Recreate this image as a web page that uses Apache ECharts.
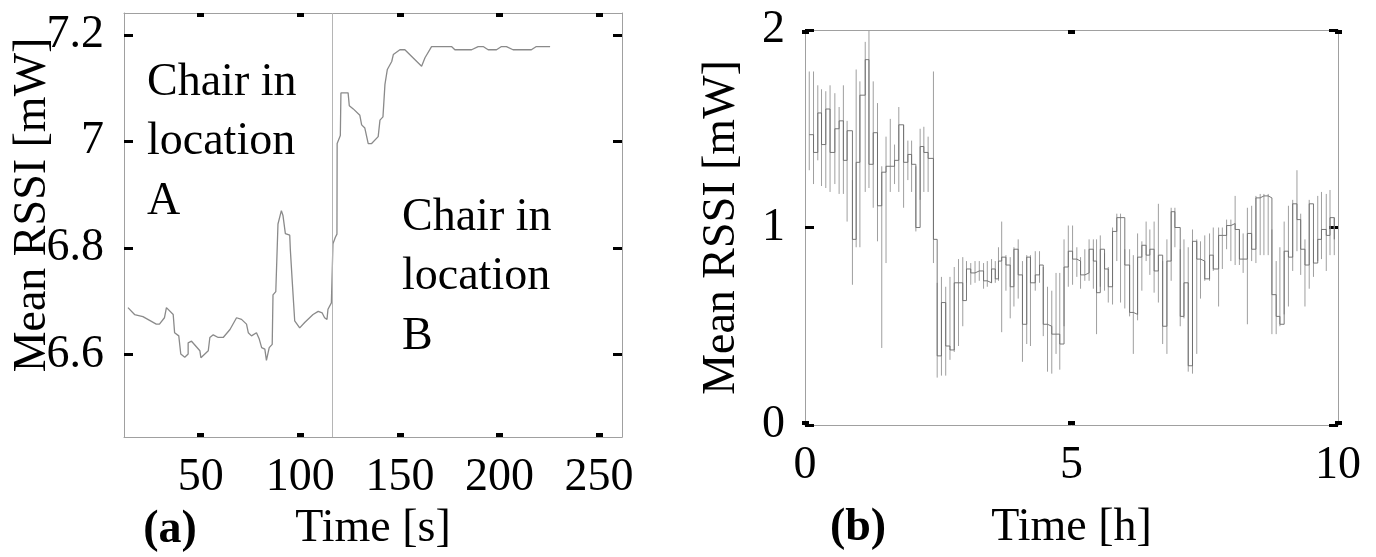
<!DOCTYPE html>
<html>
<head>
<meta charset="utf-8">
<script src="https://cdn.jsdelivr.net/npm/echarts@6/dist/echarts.min.js"></script>
<style>
html,body{margin:0;padding:0;background:#fff;}
#chart{width:1376px;height:557px;}
</style>
</head>
<body>
<div id="chart"></div>
<script>
// ---------- Panel (a) data ----------
const timeA = [13.5,16.8,21,27.7,29.3,31.8,32.8,36.2,36.9,39,40,42,43.7,43.7,45.4,49.6,50.1,53.8,54.6,56.3,58.8,61.3,64.7,68,70.5,73,73.9,75.5,78,79.4,80.6,82.2,83,83.9,84.4,85.9,86.3,87.7,88.8,90.5,91.3,92.5,94.7,95,96,97.2,99.7,102.2,106.4,109,111,112.2,113.4,113.9,115.6,116.4,117.6,118.4,118.5,120.1,120.4,124,124.6,126.6,129.9,130.8,132.4,134.1,135.8,139.1,140,141.5,142.5,143.7,145.9,146.7,150,152.5,160.9,162.6,165.9,175.9,177.6,186,189.3,191.8,194.3,198.5,201,203.5,206.8,216,218.5,225.4];
const rssiA = [6.688,6.675,6.671,6.657,6.657,6.669,6.688,6.675,6.641,6.635,6.601,6.595,6.601,6.622,6.625,6.607,6.594,6.607,6.632,6.637,6.632,6.632,6.647,6.669,6.666,6.657,6.641,6.635,6.641,6.629,6.613,6.610,6.589,6.589,6.613,6.619,6.712,6.718,6.845,6.870,6.861,6.827,6.824,6.797,6.735,6.663,6.650,6.660,6.675,6.681,6.678,6.669,6.666,6.685,6.697,6.808,6.820,6.826,6.996,7.011,7.091,7.091,7.067,7.061,7.049,7.031,7.025,6.996,6.996,7.009,7.040,7.046,7.107,7.135,7.150,7.163,7.172,7.172,7.141,7.157,7.178,7.178,7.172,7.172,7.178,7.178,7.172,7.172,7.178,7.178,7.172,7.172,7.178,7.178];
const changeTimeA = 116;
const xTicksA = [50,100,150,200,250];
const yTicksA = [6.6,6.8,7,7.2];

// ---------- Panel (b) data ----------
const timeB = [0.08,0.16,0.24,0.31,0.39,0.47,0.56,0.64,0.72,0.79,0.89,0.96,1.03,1.13,1.2,1.28,1.36,1.44,1.52,1.6,1.68,1.76,1.85,1.93,2.0,2.08,2.16,2.23,2.31,2.41,2.48,2.56,2.64,2.72,2.8,2.88,2.96,3.03,3.11,3.19,3.27,3.35,3.42,3.5,
3.57,3.63,3.69,3.77,3.85,3.92,4.0,4.08,4.16,4.23,4.32,4.4,4.47,4.55,4.63,4.71,4.78,4.86,4.94,5.02,5.1,5.17,5.25,5.33,5.41,5.47,5.54,5.62,5.69,5.77,5.85,5.92,6.0,6.09,6.16,6.24,6.32,6.4,6.47,6.55,6.63,6.71,6.79,6.87,6.94,7.04,7.11,7.19,7.27,7.35,7.42,7.5,7.59,7.66,7.76,7.83,7.91,7.99,8.07,8.15,8.22,8.3,8.38,8.46,8.54,8.61,8.69,8.76,8.84,8.91,8.99,9.07,9.15,9.23,9.3,9.38,9.46,9.54,9.62,9.69,9.78,9.85,9.93];
const meanB = [1.47,1.38,1.58,1.42,1.60,1.38,1.50,1.54,1.34,1.49,0.94,1.33,1.67,1.85,1.32,1.48,1.11,1.28,1.31,1.31,1.34,1.52,1.33,1.37,1.32,1.00,1.41,1.38,1.35,0.94,0.35,0.62,0.40,0.38,0.72,0.72,0.63,0.79,0.77,0.78,0.78,0.73,0.72,0.79,
0.74,0.83,0.85,0.81,0.70,0.89,0.76,0.51,0.85,0.72,0.76,0.81,0.51,0.50,0.46,0.46,0.41,0.80,0.88,0.84,0.83,0.76,0.77,0.89,0.83,0.67,0.89,0.79,0.70,0.98,1.05,1.05,0.81,0.57,0.56,0.85,0.91,0.86,0.89,0.78,0.86,0.50,0.83,1.08,1.00,0.55,0.72,0.30,0.93,0.84,0.83,0.74,0.86,0.79,0.96,0.96,1.01,1.02,0.99,0.84,0.84,0.97,0.89,1.15,1.16,1.16,1.15,0.66,0.55,0.51,0.88,0.85,1.12,1.04,0.89,0.81,1.12,0.82,0.94,0.99,0.96,1.05,0.94];
const lowB = [1.29,1.22,1.34,1.21,1.20,1.18,1.22,1.17,1.17,1.03,0.71,0.90,0.90,1.18,1.20,1.10,0.93,0.39,0.82,1.18,1.22,1.18,1.10,1.24,1.18,0.98,1.14,1.18,1.18,0.82,0.24,0.25,0.25,0.33,0.37,0.40,0.50,0.72,0.71,0.72,0.73,0.69,0.70,0.72,
0.72,0.73,0.47,0.68,0.54,0.60,0.64,0.32,0.41,0.40,0.68,0.72,0.45,0.27,0.26,0.36,0.28,0.50,0.70,0.71,0.75,0.69,0.73,0.73,0.69,0.46,0.70,0.68,0.62,0.61,0.83,0.62,0.59,0.55,0.36,0.53,0.68,0.83,0.76,0.67,0.62,0.41,0.36,0.73,0.90,0.50,0.54,0.27,0.26,0.36,0.64,0.73,0.73,0.78,0.60,0.79,0.89,0.83,0.81,0.81,0.77,0.51,0.83,0.82,0.86,0.86,0.86,0.46,0.46,0.50,0.56,0.60,0.78,0.88,0.76,0.60,0.69,0.75,0.83,0.84,0.78,0.86,0.86];
const highB = [1.79,1.79,1.72,1.70,1.69,1.72,1.68,1.61,1.72,1.54,1.24,1.80,1.74,1.94,2.00,1.74,1.63,1.31,1.46,1.55,1.42,1.61,1.52,1.44,1.44,1.31,1.50,1.51,1.46,1.79,0.72,0.75,0.70,0.75,0.80,0.84,0.85,0.83,0.82,0.83,0.83,0.82,0.83,0.84,
0.83,0.90,1.03,0.86,0.85,0.90,0.94,0.83,0.86,0.86,0.88,0.88,0.80,0.70,0.68,0.77,0.77,0.94,1.01,1.01,0.90,0.85,0.89,0.94,0.94,0.94,0.96,0.87,0.80,1.00,1.07,1.07,0.89,0.89,0.86,0.97,0.93,1.03,0.99,1.03,1.12,0.83,0.94,1.10,1.10,0.89,0.94,0.90,0.99,0.94,0.93,0.96,0.97,1.00,1.00,1.00,1.04,1.04,1.16,0.99,0.97,1.10,1.11,1.16,1.17,1.17,1.17,0.99,0.83,0.90,1.03,1.11,1.14,1.29,1.07,0.94,1.14,0.94,1.16,1.18,1.17,1.19,1.05];
const xTicksB = [0,5,10];
const yTicksB = [0,1,2];

// ---------- styling ----------
const FONT = 'Liberation Serif';
const BORDER = '#a0a0a0';
const fmt = v => String(+(+v).toFixed(1));

function xAxisDef(grid, min, max, ticks, pos, showLabel, name, nameGap) {
  return {
    type: 'value', gridIndex: grid, min: min, max: max, position: pos,
    axisLine: {show: true, onZero: false, lineStyle: {color: BORDER, width: 1}},
    axisTick: {show: true, inside: true, length: 4, customValues: ticks, lineStyle: {color: '#000', width: 7}},
    axisLabel: {show: showLabel, customValues: ticks, formatter: fmt, fontFamily: FONT, fontSize: 46, color: '#000', margin: 18},
    splitLine: {show: false},
    name: name || '', nameLocation: 'middle', nameGap: nameGap || 0,
    nameTextStyle: {fontFamily: FONT, fontSize: 46, color: '#000'}
  };
}
function yAxisDef(grid, min, max, ticks, pos, showLabel, name, nameGap) {
  return {
    type: 'value', gridIndex: grid, min: min, max: max, position: pos,
    axisLine: {show: true, onZero: false, lineStyle: {color: BORDER, width: 1}},
    axisTick: {show: true, inside: true, length: 9, customValues: ticks, lineStyle: {color: '#000', width: 3}},
    axisLabel: {show: showLabel, customValues: ticks, formatter: fmt, fontFamily: FONT, fontSize: 46, color: '#000', margin: 20},
    splitLine: {show: false},
    name: name || '', nameLocation: 'middle', nameGap: nameGap || 0,
    nameTextStyle: {fontFamily: FONT, fontSize: 46, color: '#000'}
  };
}

const chart = echarts.init(document.getElementById('chart'), null, {renderer: 'canvas'});

const txt = (s, x, y, extra) => Object.assign({
  type: 'text', x: x, y: y, silent: true,
  style: {text: s, fontFamily: FONT, fontSize: 46, fill: '#000', align: 'left', verticalAlign: 'middle'}
}, extra || {});

const option = {
  animation: false,
  backgroundColor: '#fff',
  grid: [
    {left: 124, top: 13, width: 498, height: 430},
    {left: 805, top: 30, width: 533, height: 395}
  ],
  xAxis: [
    xAxisDef(0, 11.5, 261.5, xTicksA, 'bottom', true, 'Time [s]', 64),
    xAxisDef(0, 11.5, 261.5, xTicksA, 'top', false),
    xAxisDef(1, 0, 10, xTicksB, 'bottom', true, 'Time [h]', 80),
    xAxisDef(1, 0, 10, xTicksB, 'top', false)
  ],
  yAxis: [
    yAxisDef(0, 6.445, 7.241, yTicksA, 'left', true),
    yAxisDef(0, 6.445, 7.241, yTicksA, 'right', false),
    yAxisDef(1, 0, 2, yTicksB, 'left', true, 'Mean RSSI [mW]', 60),
    yAxisDef(1, 0, 2, yTicksB, 'right', false)
  ],
  graphic: [
    txt('Mean RSSI [mW]', 33, 205, {rotation: Math.PI / 2, style: {text: 'Mean RSSI [mW]', fontFamily: FONT, fontSize: 46, fill: '#000', align: 'center', verticalAlign: 'middle'}}),
    txt('Chair in', 147, 83),
    txt('location', 147, 142),
    txt('A', 147, 202),
    txt('Chair in', 402, 218),
    txt('location', 402, 277),
    txt('B', 402, 337),
    txt('(a)', 170, 530, {style: {text: '(a)', fontFamily: FONT, fontSize: 46, fontWeight: 'bold', fill: '#000', align: 'center', verticalAlign: 'middle'}}),
    txt('(b)', 858, 528, {style: {text: '(b)', fontFamily: FONT, fontSize: 46, fontWeight: 'bold', fill: '#000', align: 'center', verticalAlign: 'middle'}})
  ],
  series: [
    {
      type: 'line', xAxisIndex: 0, yAxisIndex: 0,
      data: timeA.map((t, i) => [t, rssiA[i]]),
      showSymbol: false, symbol: 'none',
      lineStyle: {color: '#8a8a8a', width: 1.3},
      markLine: {
        silent: true, symbol: ['none', 'none'], label: {show: false},
        lineStyle: {color: '#b5b5b5', width: 1, type: 'solid'},
        data: [{xAxis: changeTimeA}]
      }
    },
    {
      type: 'custom', xAxisIndex: 2, yAxisIndex: 2,
      data: timeB.map((t, i) => [t, lowB[i], highB[i]]),
      encode: {x: 0, y: [1, 2]},
      renderItem: function (params, api) {
        const p1 = api.coord([api.value(0), api.value(1)]);
        const p2 = api.coord([api.value(0), api.value(2)]);
        return {type: 'line', shape: {x1: p1[0], y1: p1[1], x2: p2[0], y2: p2[1]},
                style: {stroke: '#9f9f9f', lineWidth: 1}};
      }
    },
    {
      type: 'line', xAxisIndex: 2, yAxisIndex: 2, z: 3,
      data: timeB.map((t, i) => [t, meanB[i]]),
      step: 'end',
      showSymbol: false, symbol: 'none',
      lineStyle: {color: '#6a6a6a', width: 0.9}
    }
  ]
};
chart.setOption(option);
</script>
</body>
</html>
